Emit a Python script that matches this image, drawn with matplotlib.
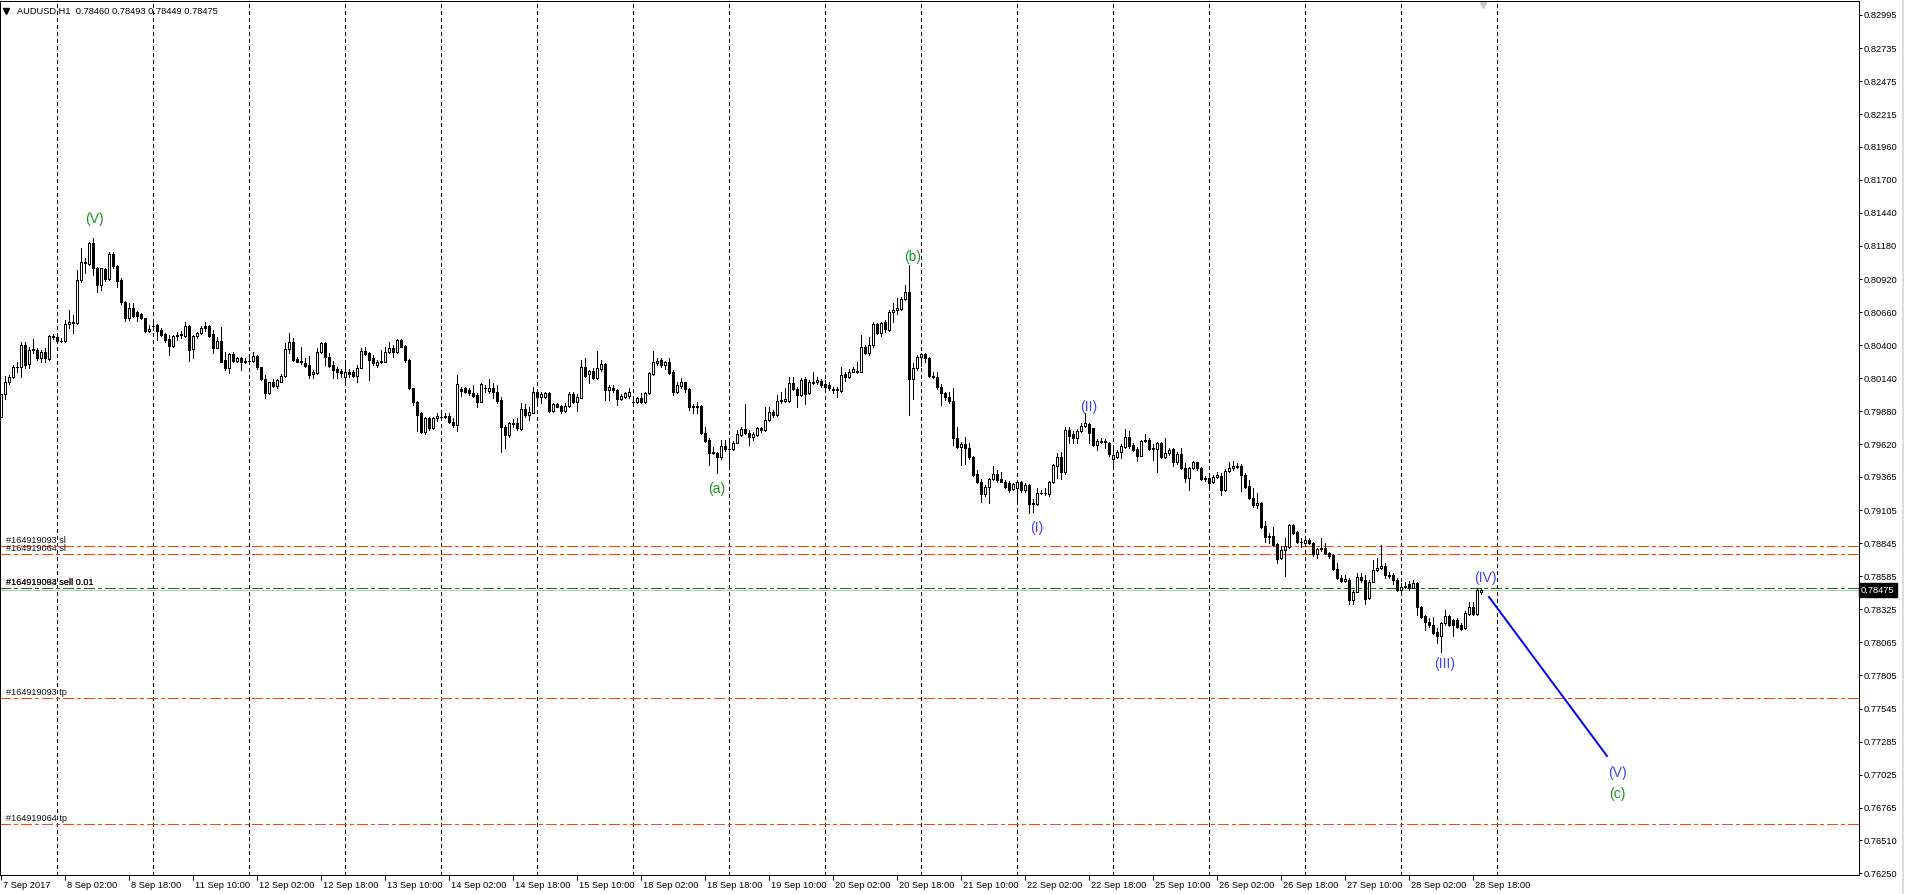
import numpy as np
import pandas as pd
import matplotlib
matplotlib.use('Agg')
import matplotlib.pyplot as plt
import matplotlib.transforms as mtransforms
from matplotlib.lines import Line2D

plt.rcParams['font.family'] = ['Liberation Sans', 'DejaVu Sans']
plt.rcParams['lines.scale_dashes'] = False

# AUDUSD H1, first bar 7 Sep 2017 10:00, prices in points (1e-5)
first_bar = '2017-09-07 10:00'
header = 'AUDUSD,H1  0.78460 0.78493 0.78449 0.78475'

opens = [
    79839, 80015, 80114, 80148, 80232, 80227, 80402, 80250, 80363, 80363, 80297, 80350,
    80292, 80473, 80462, 80436, 80431, 80567, 80572, 80578, 80913, 81052, 81036, 81201,
    81010, 80874, 80997, 80918, 81115, 81023, 80913, 80743, 80617, 80690, 80659, 80646,
    80612, 80512, 80551, 80559, 80520, 80489, 80447, 80397, 80473, 80481, 80475, 80551,
    80368, 80473, 80494, 80551, 80551, 80486, 80381, 80434, 80284, 80224, 80329, 80276,
    80303, 80271, 80276, 80276, 80316, 80227, 80135, 80028, 80109, 80080, 80114, 80161,
    80368, 80423, 80292, 80279, 80263, 80245, 80172, 80180, 80345, 80420, 80311, 80245,
    80214, 80201, 80153, 80193, 80193, 80161, 80224, 80355, 80337, 80297, 80245, 80266,
    80271, 80345, 80376, 80345, 80441, 80397, 80284, 80062, 79952, 79865, 79716, 79826,
    79747, 79826, 79839, 79839, 79844, 79800, 79774, 80056, 80062, 80049, 80022, 80009,
    79957, 80062, 80043, 80062, 80036, 79969, 79755, 79694, 79783, 79786, 79742, 79896,
    79854, 79870, 80030, 79990, 79990, 80022, 79883, 79938, 79922, 79886, 79922, 80017,
    79956, 79988, 80226, 80174, 80200, 80140, 80213, 80252, 80048, 80066, 80048, 79977,
    79996, 80003, 79956, 79956, 79983, 79951, 80022, 80174, 80263, 80284, 80244, 80265,
    80192, 80035, 80079, 80108, 80053, 79925, 79922, 79922, 79713, 79655, 79550, 79550,
    79519, 79611, 79582, 79582, 79634, 79694, 79739, 79708, 79676, 79694, 79747, 79734,
    79812, 79873, 79852, 79964, 79964, 79964, 80100, 80059, 80009, 80132, 80027, 80100,
    80108, 80121, 80095, 80087, 80053, 80048, 80043, 80174, 80153, 80192, 80192, 80192,
    80383, 80336, 80402, 80567, 80498, 80585, 80520, 80663, 80677, 80682, 80763, 80821,
    80132, 80218, 80310, 80328, 80297, 80158, 80148, 80069, 80022, 79996, 79964, 79668,
    79598, 79621, 79590, 79519, 79388, 79328, 79231, 79283, 79346, 79388, 79346, 79328,
    79315, 79268, 79281, 79323, 79263, 79302, 79150, 79150, 79236, 79242, 79231, 79323,
    79454, 79524, 79401, 79734, 79700, 79669, 79726, 79768, 79779, 79747, 79616, 79650,
    79648, 79634, 79506, 79524, 79559, 79603, 79676, 79616, 79585, 79532, 79650, 79655,
    79585, 79585, 79629, 79524, 79551, 79585, 79485, 79545, 79433, 79354, 79433, 79480,
    79438, 79346, 79359, 79323, 79362, 79375, 79263, 79412, 79433, 79446, 79454, 79380,
    79297, 79202, 79145, 79158, 78980, 78896, 78901, 78836, 78726, 78791, 78817, 78988,
    78930, 78857, 78844, 78870, 78844, 78757, 78799, 78804, 78765, 78752, 78639, 78574,
    78550, 78555, 78398, 78464, 78582, 78555, 78411, 78542, 78634, 78652, 78668, 78595,
    78595, 78555, 78477, 78503, 78521, 78495, 78529, 78341, 78275, 78223, 78202, 78144,
    78118, 78215, 78275, 78241, 78241, 78202, 78176, 78288, 78346, 78288, 78460,
]
highs = [
    80020, 80161, 80166, 80245, 80271, 80428, 80428, 80389, 80447, 80376, 80363, 80376,
    80481, 80486, 80481, 80454, 80599, 80677, 80638, 80991, 81162, 81083, 81214, 81245,
    81018, 81010, 81005, 81135, 81135, 81031, 80926, 80748, 80730, 80730, 80669, 80651,
    80617, 80559, 80572, 80570, 80533, 80494, 80481, 80481, 80507, 80512, 80580, 80559,
    80481, 80507, 80554, 80580, 80559, 80520, 80468, 80546, 80350, 80337, 80350, 80311,
    80311, 80297, 80311, 80345, 80324, 80232, 80166, 80114, 80135, 80135, 80172, 80415,
    80494, 80454, 80311, 80389, 80297, 80318, 80206, 80381, 80428, 80428, 80337, 80276,
    80232, 80214, 80284, 80214, 80206, 80245, 80376, 80389, 80350, 80324, 80284, 80363,
    80389, 80428, 80402, 80447, 80447, 80402, 80292, 80067, 79962, 79878, 79839, 79839,
    79839, 79865, 79865, 79865, 79865, 79826, 80166, 80075, 80075, 80062, 80088, 80022,
    80101, 80088, 80135, 80101, 80088, 79996, 79773, 79799, 79818, 79825, 79943, 79938,
    79917, 80074, 80035, 80035, 80035, 80035, 79949, 79949, 79930, 79943, 80035, 80035,
    80017, 80284, 80297, 80205, 80218, 80354, 80284, 80257, 80087, 80087, 80053, 80017,
    80035, 80061, 79983, 79996, 80022, 80035, 80192, 80354, 80297, 80297, 80279, 80297,
    80205, 80114, 80140, 80114, 80061, 79938, 79956, 79930, 79760, 79668, 79603, 79563,
    79655, 79655, 79655, 79647, 79734, 79760, 79938, 79734, 79721, 79760, 79760, 79917,
    79917, 79891, 80009, 80035, 80061, 80153, 80153, 80074, 80140, 80153, 80127, 80192,
    80153, 80132, 80127, 80114, 80074, 80069, 80226, 80192, 80210, 80231, 80271, 80480,
    80402, 80462, 80585, 80572, 80585, 80598, 80677, 80729, 80768, 80781, 80873, 81030,
    80263, 80323, 80341, 80336, 80305, 80192, 80192, 80095, 80035, 80035, 80061, 79755,
    79637, 79681, 79634, 79529, 79419, 79346, 79302, 79354, 79451, 79419, 79401, 79341,
    79333, 79315, 79341, 79333, 79315, 79307, 79192, 79276, 79263, 79276, 79333, 79464,
    79551, 79559, 79760, 79760, 79726, 79742, 79786, 79865, 79786, 79752, 79663, 79669,
    79661, 79642, 79603, 79577, 79621, 79742, 79726, 79629, 79603, 79655, 79700, 79669,
    79621, 79642, 79637, 79674, 79590, 79595, 79564, 79590, 79472, 79446, 79490, 79485,
    79446, 79375, 79373, 79380, 79401, 79394, 79428, 79485, 79490, 79472, 79464, 79394,
    79341, 79276, 79236, 79166, 79019, 78922, 78974, 78844, 78825, 78888, 78993, 78993,
    78940, 78888, 78896, 78883, 78857, 78810, 78883, 78844, 78778, 78757, 78686, 78595,
    78595, 78569, 78477, 78608, 78608, 78595, 78555, 78713, 78726, 78830, 78686, 78621,
    78608, 78574, 78529, 78542, 78548, 78555, 78537, 78354, 78280, 78254, 78267, 78176,
    78228, 78320, 78280, 78249, 78254, 78215, 78312, 78385, 78385, 78490, 78493,
]
lows = [
    79835, 79978, 80093, 80140, 80193, 80153, 80219, 80224, 80337, 80284, 80266, 80271,
    80284, 80449, 80428, 80428, 80428, 80533, 80494, 80570, 80900, 80965, 81031, 80952,
    80821, 80834, 80905, 80913, 81010, 80860, 80722, 80591, 80599, 80625, 80591, 80606,
    80507, 80502, 80520, 80441, 80475, 80428, 80324, 80389, 80441, 80454, 80468, 80276,
    80297, 80454, 80486, 80512, 80465, 80337, 80376, 80266, 80206, 80185, 80266, 80266,
    80206, 80258, 80250, 80266, 80214, 80127, 79983, 80017, 80075, 80067, 80109, 80153,
    80337, 80276, 80266, 80250, 80232, 80146, 80146, 80172, 80337, 80245, 80232, 80146,
    80140, 80153, 80114, 80153, 80153, 80114, 80219, 80324, 80127, 80245, 80232, 80258,
    80266, 80337, 80311, 80337, 80384, 80271, 80056, 79931, 79726, 79708, 79703, 79734,
    79742, 79805, 79826, 79826, 79787, 79761, 79726, 80004, 80022, 80009, 79996, 79918,
    79952, 80036, 80022, 79983, 79944, 79558, 79590, 79681, 79760, 79734, 79734, 79839,
    79812, 79865, 79943, 79943, 79983, 79878, 79878, 79912, 79865, 79878, 79917, 79943,
    79883, 79983, 80148, 80100, 80132, 80132, 80200, 79969, 79969, 80035, 79930, 79969,
    79983, 79983, 79938, 79949, 79949, 79943, 80017, 80166, 80244, 80226, 80210, 80174,
    80009, 80027, 80061, 80035, 79891, 79865, 79870, 79702, 79642, 79459, 79545, 79398,
    79508, 79571, 79446, 79577, 79629, 79687, 79702, 79616, 79655, 79687, 79721, 79726,
    79807, 79839, 79844, 79943, 79956, 79956, 80048, 79912, 80001, 79938, 80017, 80093,
    80095, 80069, 80048, 80048, 80027, 79990, 80035, 80119, 80140, 80187, 80184, 80187,
    80331, 80323, 80388, 80488, 80472, 80506, 80514, 80585, 80645, 80677, 80755, 79852,
    79977, 80205, 80237, 80271, 80148, 80140, 80053, 79930, 79969, 79949, 79616, 79590,
    79459, 79467, 79503, 79372, 79320, 79171, 79215, 79158, 79341, 79328, 79323, 79281,
    79250, 79260, 79158, 79250, 79250, 79079, 79087, 79145, 79229, 79223, 79218, 79315,
    79354, 79349, 79391, 79629, 79629, 79629, 79716, 79760, 79629, 79611, 79577, 79629,
    79590, 79532, 79459, 79517, 79511, 79595, 79595, 79569, 79493, 79530, 79642, 79577,
    79498, 79407, 79517, 79517, 79538, 79454, 79464, 79428, 79323, 79263, 79428, 79420,
    79341, 79333, 79289, 79315, 79354, 79223, 79255, 79401, 79420, 79438, 79255, 79276,
    79192, 79132, 79124, 78967, 78851, 78844, 78825, 78686, 78720, 78589, 78810, 78914,
    78844, 78817, 78825, 78836, 78747, 78726, 78783, 78757, 78731, 78634, 78563, 78537,
    78542, 78364, 78364, 78459, 78542, 78364, 78406, 78537, 78626, 78642, 78569, 78569,
    78521, 78469, 78464, 78495, 78477, 78490, 78280, 78259, 78163, 78189, 78129, 78058,
    77992, 78202, 78197, 78118, 78176, 78163, 78171, 78280, 78280, 78280, 78449,
]
closes = [
    80015, 80114, 80148, 80232, 80227, 80402, 80245, 80363, 80368, 80297, 80345, 80297,
    80473, 80468, 80436, 80436, 80567, 80580, 80586, 80913, 81052, 81044, 81201, 81010,
    80874, 81005, 80918, 81115, 81023, 80908, 80737, 80617, 80690, 80633, 80633, 80617,
    80512, 80525, 80551, 80512, 80481, 80441, 80397, 80473, 80481, 80486, 80551, 80363,
    80473, 80499, 80533, 80533, 80475, 80381, 80434, 80271, 80224, 80329, 80276, 80297,
    80271, 80276, 80276, 80316, 80227, 80135, 80028, 80109, 80080, 80127, 80161, 80368,
    80423, 80284, 80271, 80266, 80240, 80166, 80193, 80350, 80415, 80311, 80240, 80206,
    80187, 80185, 80193, 80174, 80161, 80224, 80355, 80334, 80284, 80258, 80271, 80276,
    80350, 80381, 80345, 80441, 80389, 80284, 80062, 79952, 79852, 79716, 79826, 79747,
    79831, 79844, 79839, 79844, 79795, 79774, 80093, 80043, 80036, 80022, 80004, 79957,
    80093, 80062, 80062, 80036, 79962, 79755, 79694, 79786, 79788, 79747, 79896, 79852,
    79873, 80030, 79990, 80017, 80022, 79883, 79938, 79917, 79886, 79922, 80017, 79956,
    79996, 80226, 80158, 80200, 80140, 80223, 80252, 80048, 80069, 80048, 79977, 80003,
    80027, 80035, 79956, 79983, 79956, 80022, 80179, 80265, 80276, 80244, 80265, 80179,
    80035, 80087, 80108, 80053, 79912, 79912, 79912, 79713, 79650, 79550, 79558, 79519,
    79611, 79582, 79582, 79634, 79700, 79739, 79708, 79676, 79702, 79747, 79734, 79812,
    79873, 79852, 79964, 79969, 79975, 80100, 80053, 80009, 80127, 80017, 80108, 80108,
    80127, 80087, 80074, 80061, 80048, 80053, 80166, 80153, 80192, 80216, 80200, 80383,
    80336, 80402, 80567, 80498, 80572, 80525, 80663, 80677, 80690, 80763, 80821, 80132,
    80218, 80310, 80328, 80297, 80158, 80148, 80069, 80022, 79996, 79964, 79668, 79598,
    79621, 79590, 79519, 79380, 79328, 79231, 79283, 79346, 79388, 79341, 79328, 79289,
    79263, 79307, 79323, 79263, 79302, 79150, 79158, 79236, 79242, 79236, 79323, 79459,
    79524, 79401, 79734, 79689, 79669, 79726, 79768, 79786, 79708, 79616, 79650, 79642,
    79637, 79543, 79538, 79559, 79611, 79676, 79611, 79577, 79532, 79650, 79655, 79585,
    79590, 79629, 79524, 79551, 79577, 79480, 79545, 79433, 79354, 79433, 79480, 79433,
    79346, 79359, 79315, 79367, 79380, 79263, 79414, 79433, 79451, 79454, 79380, 79289,
    79202, 79145, 79158, 78974, 78896, 78904, 78830, 78720, 78791, 78825, 78988, 78927,
    78857, 78851, 78870, 78844, 78757, 78799, 78804, 78765, 78747, 78639, 78574, 78550,
    78561, 78398, 78464, 78582, 78555, 78406, 78542, 78634, 78652, 78668, 78595, 78589,
    78555, 78477, 78503, 78508, 78490, 78529, 78341, 78267, 78223, 78202, 78136, 78118,
    78215, 78275, 78202, 78202, 78189, 78171, 78294, 78346, 78288, 78477, 78475,
]

price_ticks = [0.82995, 0.82735, 0.82475, 0.82215, 0.81960, 0.81700, 0.81440, 0.81180,
               0.80920, 0.80660, 0.80400, 0.80140, 0.79880, 0.79620, 0.79365, 0.79105,
               0.78845, 0.78585, 0.78325, 0.78065, 0.77805, 0.77545, 0.77285, 0.77025,
               0.76765, 0.76510, 0.76250]
bid = 0.78475

# order lines: label, price, colour
order_labels = ['#164919093 sl', '#164919064 sl', '#164919093 sell 0.01',
                '#164919064 sell 0.01', '#164919093 tp', '#164919064 tp']
order_prices = [0.78822, 0.78760, 0.78490, 0.78490, 0.77628, 0.76638]
order_colors = ['#ff4500', '#ff4500', '#008000', '#008000', '#ff4500', '#ff4500']

# wave counts: text, bar position, price, colour
wave_text = ['(V)', '(b)', '(a)', '(I)', '(II)', '(III)', '(IV)', '(V)', '(c)']
wave_x = [23.2, 227.9, 178.9, 258.9, 271.9, 360.7, 370.9, 403.9, 403.9]
wave_y = [0.81392, 0.81093, 0.79270, 0.78964, 0.79915, 0.77895, 0.78571, 0.77039, 0.76874]
green = '#1f8f1f'
blue = '#4040ff'
wave_col = [green, green, green, blue, blue, blue, blue, blue, green]

# projected leg (IV) -> (V)
proj_x = [371.9, 401.4]
proj_y = [0.78422, 0.77172]

o = np.array(opens) / 1e5
h = np.array(highs) / 1e5
l = np.array(lows) / 1e5
c = np.array(closes) / 1e5
n = len(c)
x = np.arange(n)

hours = pd.date_range(first_bar, '2017-09-29 23:00', freq='h')
hours = hours[hours.dayofweek < 5]

W, H = 1906, 894
px = 0.72  # one pixel in points
fig = plt.figure(figsize=(W / 100, H / 100), dpi=100)
ax = fig.add_axes([0, 19 / H, 1859 / W, 874 / H])
ax.set_xlim(-0.325, 464.4)
ax.set_ylim(0.76237, 0.83105)

# day separators
day_pos = [i for i, t in enumerate(hours) if t.hour == 0 and i < n + 5]
for d in day_pos:
    ax.axvline(d, color='black', lw=px, ls=(0, (2.4, 2.4)), zorder=1, antialiased=False)

# order lines
for lab, p, col in zip(order_labels, order_prices, order_colors):
    ax.axhline(p, color=col, lw=px, ls=(0, (7.2, 2.2, 2.2, 2.2)), zorder=2,
               antialiased=False)
    ax.annotate(lab, xy=(0, p), xycoords=('axes fraction', 'data'), xytext=(6, 1),
                textcoords='offset pixels', fontsize=6.6, color='#101010',
                va='bottom', ha='left', zorder=6)
ax.axhline(bid, color='#c0c0c0', lw=px, zorder=2, antialiased=False)

# candles
up = c >= o
lo = np.minimum(o, c)
hi = np.maximum(o, c)
ax.vlines(x, l, h, color='black', lw=px, zorder=3, antialiased=False)
ax.bar(x[up], (hi - lo)[up], bottom=lo[up], width=0.5, facecolor='white',
       edgecolor='black', lw=px, zorder=4, antialiased=False)
ax.bar(x[~up], (hi - lo)[~up], bottom=lo[~up], width=0.5, facecolor='black',
       edgecolor='black', lw=px, zorder=4, antialiased=False)

# elliott labels and projection
for t, wx, wy, col in zip(wave_text, wave_x, wave_y, wave_col):
    ax.text(wx, wy, t, color=col, fontsize=10, ha='center', va='center', zorder=7)
ax.plot(proj_x, proj_y, color='#0000ff', lw=1.4, zorder=6)

# price axis
ax.yaxis.tick_right()
ax.set_yticks(price_ticks)
ax.set_yticklabels(['%.5f' % v for v in price_ticks])
ax.tick_params(axis='y', length=2.5, width=px, pad=1, labelsize=6.7, direction='out')
ax.text(1 + 2 / 1859, bid, '%.5f' % bid,
        transform=mtransforms.blended_transform_factory(ax.transAxes, ax.transData),
        color='white', fontsize=6.7, ha='left', va='center', zorder=8,
        bbox=dict(boxstyle='square,pad=0.25', fc='black', ec='black'))

# time axis
lab_pos = list(range(0, n, 16))
lab_txt = []
for i in lab_pos:
    t = hours[i]
    lab_txt.append('%d %s %d' % (t.day, t.strftime('%b'), t.year) if i == 0
                   else '%d %s %s' % (t.day, t.strftime('%b'), t.strftime('%H:%M')))
ax.set_xticks(lab_pos)
ax.set_xticklabels(lab_txt)
ax.tick_params(axis='x', length=3.5, width=px, pad=0.5, labelsize=6.7, direction='out')
shift = mtransforms.ScaledTranslation(1.5 / 100, 0, fig.dpi_scale_trans)
for tl in ax.get_xticklabels():
    tl.set_horizontalalignment('left')
    tl.set_transform(tl.get_transform() + shift)

for s in ax.spines.values():
    s.set_linewidth(px)

# header and chart-shift marker
ax.plot([6 / 1859], [1 - 10 / 874], marker='v', ms=4, color='black',
        transform=ax.transAxes, clip_on=False)
fig.text(17 / W, 1 - 11 / H, header, fontsize=6.7, va='center', ha='left')
ax.plot([1483 / 1859], [1 - 4 / 874], marker='v', ms=5, color='#c8c8c8',
        transform=ax.transAxes, clip_on=False)
fig.add_artist(Line2D([1903 / W, 1903 / W], [0, 1], color='#d0d8e0', lw=1.2))

fig.savefig('out.png', dpi=100)
